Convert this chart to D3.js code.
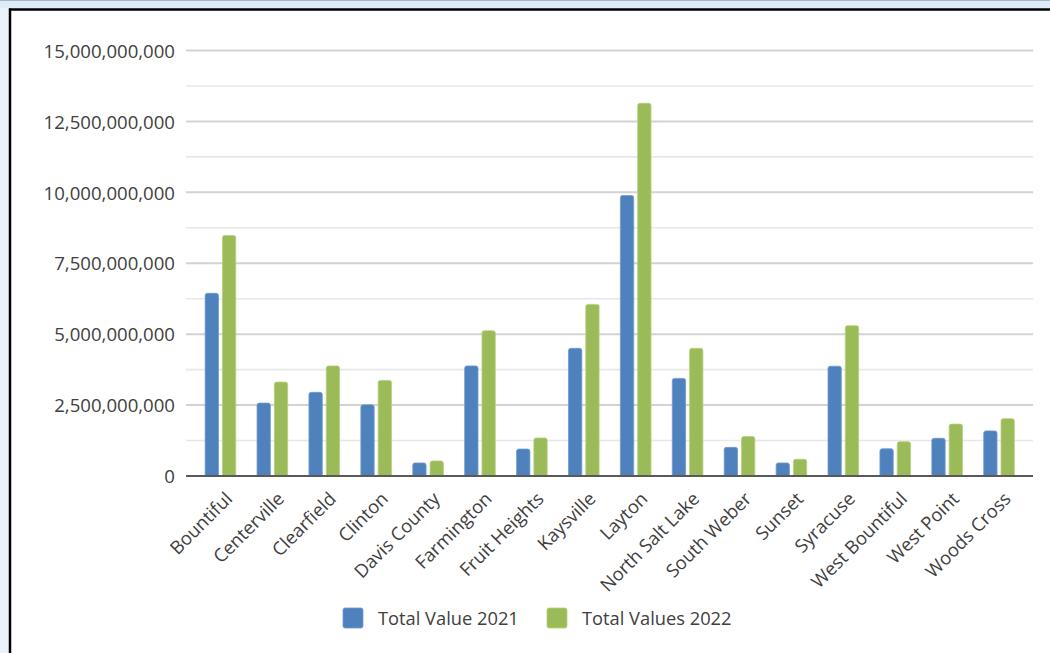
<!DOCTYPE html>
<html>
<head>
<meta charset="utf-8">
<script src="https://cdn.jsdelivr.net/npm/d3@7"></script>
<style>
  html, body { margin: 0; padding: 0; background: #ffffff; }
  svg { display: block; }
  text { font-family: "Open Sans", "Noto Sans", sans-serif; fill: #404040; }
</style>
</head>
<body>
<svg id="chart" width="1050" height="653"></svg>
<script>
// Assessed property value by city
const categories = ["Bountiful", "Centerville", "Clearfield", "Clinton", "Davis County",
  "Farmington", "Fruit Heights", "Kaysville", "Layton", "North Salt Lake",
  "South Weber", "Sunset", "Syracuse", "West Bountiful", "West Point", "Woods Cross"];

const seriesNames = ["Total Value 2021", "Total Values 2022"];

const values2021 = [6440000000, 2570000000, 2950000000, 2510000000, 460000000,
  3880000000, 950000000, 4500000000, 9890000000, 3440000000,
  1010000000, 460000000, 3870000000, 960000000, 1330000000, 1590000000];

const values2022 = [8480000000, 3310000000, 3880000000, 3370000000, 530000000,
  5120000000, 1340000000, 6050000000, 13140000000, 4500000000,
  1390000000, 590000000, 5300000000, 1210000000, 1830000000, 2020000000];

const yTicks = [0, 2500000000, 5000000000, 7500000000, 10000000000, 12500000000, 15000000000];
const yMinorTicks = [1250000000, 3750000000, 6250000000, 8750000000, 11250000000, 13750000000];

const colors = ["#4f81bd", "#9bbb59"];
const strokes = ["#6f9bd0", "#b5d07a"];

const svg = d3.select("#chart");

// window frame around the chart
svg.append("rect").attr("x", 0).attr("y", 0).attr("width", 1050).attr("height", 653).attr("fill", "#eaf3fb");
svg.append("rect").attr("x", 0).attr("y", 0).attr("width", 1050).attr("height", 8).attr("fill", "#dcecf8");
svg.append("line").attr("x1", 0).attr("x2", 1050).attr("y1", 0.5).attr("y2", 0.5).attr("stroke", "#a9b4bf");
svg.append("rect").attr("x", 11).attr("y", 11).attr("width", 1039).attr("height", 642).attr("fill", "#ffffff");
svg.append("line").attr("x1", 9).attr("x2", 1050).attr("y1", 9.5).attr("y2", 9.5).attr("stroke", "#000").attr("stroke-width", 2.5);
svg.append("line").attr("x1", 10).attr("x2", 10).attr("y1", 8.5).attr("y2", 653).attr("stroke", "#000").attr("stroke-width", 2.5);

const plotLeft = 186, plotRight = 1033;
const y = d3.scaleLinear().domain([0, 15000000000]).range([476, 50.5]);

const x0 = d3.scaleBand().domain(categories).range([194.5, 1025])
  .paddingInner(0.41).paddingOuter(0.205);
const x1 = d3.scaleBand().domain(seriesNames).range([0, x0.bandwidth()]).paddingInner(0.23);

// gridlines
svg.append("g").selectAll("line").data(yMinorTicks).join("line")
  .attr("x1", plotLeft).attr("x2", plotRight)
  .attr("y1", d => y(d)).attr("y2", d => y(d))
  .attr("stroke", "#e8e8e8").attr("stroke-width", 1.6);
svg.append("g").selectAll("line").data(yTicks.filter(d => d > 0)).join("line")
  .attr("x1", plotLeft).attr("x2", plotRight)
  .attr("y1", d => y(d)).attr("y2", d => y(d))
  .attr("stroke", "#d3d3d3").attr("stroke-width", 2);

// y axis labels
const fmt = d3.format(",");
const yAxis = d3.axisLeft(y).tickValues(yTicks).tickFormat(fmt).tickSize(0).tickPadding(0);
const gy = svg.append("g").attr("transform", "translate(175,0)").call(yAxis);
gy.select(".domain").remove();
gy.selectAll("text").attr("font-size", 18.6).attr("fill", "#404040")
  .style("font-family", "'Open Sans', 'Noto Sans', sans-serif").attr("dy", "0.36em");

// bars with slightly rounded tops
function barPath(xl, w, top, bottom) {
  const r = Math.min(2.2, (bottom - top) / 2);
  return `M${xl},${bottom}V${top + r}Q${xl},${top} ${xl + r},${top}H${xl + w - r}Q${xl + w},${top} ${xl + w},${top + r}V${bottom}Z`;
}
const seriesData = [values2021, values2022];
seriesNames.forEach((name, si) => {
  svg.append("g").selectAll("path").data(categories).join("path")
    .attr("d", (c, i) => barPath(x0(c) + x1(name), x1.bandwidth(), y(seriesData[si][i]), y(0)))
    .attr("fill", colors[si])
    .attr("stroke", strokes[si]).attr("stroke-width", 0.8);
});

// baseline
svg.append("line").attr("x1", plotLeft).attr("x2", plotRight)
  .attr("y1", y(0)).attr("y2", y(0))
  .attr("stroke", "#595959").attr("stroke-width", 2);

// rotated category labels
const xAxis = d3.axisBottom(x0).tickSize(0).tickPadding(0);
const gx = svg.append("g").attr("transform", `translate(0,${y(0)})`).call(xAxis);
gx.select(".domain").remove();
gx.selectAll("text")
  .attr("font-size", 18.4).attr("fill", "#404040")
  .style("font-family", "'Open Sans', 'Noto Sans', sans-serif")
  .attr("text-anchor", "end")
  .attr("y", 0).attr("dy", 0)
  .attr("transform", "translate(13,24) rotate(-45)");

// legend
const legendX = [343, 547];
const legend = svg.append("g");
seriesNames.forEach((name, si) => {
  legend.append("rect").attr("x", legendX[si]).attr("y", 608).attr("width", 20).attr("height", 20)
    .attr("rx", 2).attr("fill", colors[si]).attr("stroke", strokes[si]).attr("stroke-width", 0.8);
  legend.append("text").attr("x", legendX[si] + 35).attr("y", 618).attr("dy", "0.36em")
    .attr("font-size", 18.3).text(name);
});
</script>
</body>
</html>
